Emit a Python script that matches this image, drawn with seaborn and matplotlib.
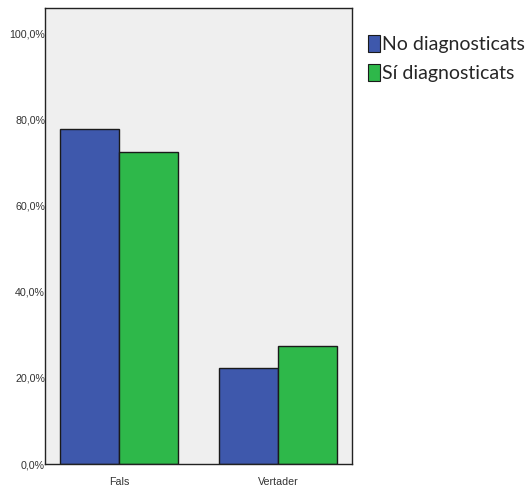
import matplotlib
matplotlib.use("Agg")
import matplotlib.pyplot as plt
import seaborn as sns
import pandas as pd
from matplotlib.patches import Patch
from matplotlib import font_manager as fm

categories = ["Fals", "Vertader"]
groups = ["No diagnosticats", "Sí diagnosticats"]
no_diag = [77.8, 22.2]
si_diag = [72.5, 27.5]
colors = ["#3e58ac", "#2eb84a"]

df = pd.DataFrame({
    "cat": categories * 2,
    "grp": [groups[0]] * 2 + [groups[1]] * 2,
    "val": no_diag + si_diag,
})

sns.set_style("white")

# pick regular (non-narrow) Liberation Sans
tick_font = None
for f in fm.fontManager.ttflist:
    if f.name == "Liberation Sans" and f.style == "normal" and f.weight in (400, "normal") and f.stretch in ("normal", 500):
        tick_font = fm.FontProperties(fname=f.fname, size=7.7)
        break
if tick_font is None:
    tick_font = fm.FontProperties(family="DejaVu Sans", size=7)

plt.rcParams["font.family"] = ["Liberation Sans", "DejaVu Sans"]

fig = plt.figure(figsize=(5.32, 4.90), dpi=100)
ax = fig.add_axes([45/532, 1 - 464/490, (352-45)/532, (464-8)/490])
sns.barplot(data=df, x="cat", y="val", hue="grp", palette=colors,
            width=0.742, edgecolor="#1a1a1a", linewidth=1.0, ax=ax,
            legend=False, saturation=1)
ax.set_facecolor("#efefef")
ax.set_xlim(-0.465, 1.465)
ax.set_ylim(0, 106)
ax.set_yticks([0, 20, 40, 60, 80, 100])
ax.set_yticklabels(["0,0%", "20,0%", "40,0%", "60,0%", "80,0%", "100,0%"])
ax.tick_params(axis="y", length=0, pad=0, labelcolor="#333333")
ax.tick_params(axis="x", length=7, color="#777777", pad=2, labelcolor="#333333")
for lbl in ax.get_yticklabels() + ax.get_xticklabels():
    lbl.set_fontproperties(tick_font)
    lbl.set_zorder(5)
ax.set_xlabel("")
ax.set_ylabel("")
for s in ax.spines.values():
    s.set_color("#222222")
    s.set_linewidth(1.0)

handles = [Patch(facecolor=c, edgecolor="#1a1a1a", linewidth=0.8) for c in colors]
fig.legend(handles, groups, loc="upper left", bbox_to_anchor=(368/532, 1 - 35/490),
           frameon=False, handlelength=0.62, handleheight=0.95,
           handletextpad=0.1, labelspacing=0.55, borderpad=0, borderaxespad=0,
           prop={"family": ["Lato", "DejaVu Sans"], "size": 14})
fig.savefig("out.png", dpi=100)
